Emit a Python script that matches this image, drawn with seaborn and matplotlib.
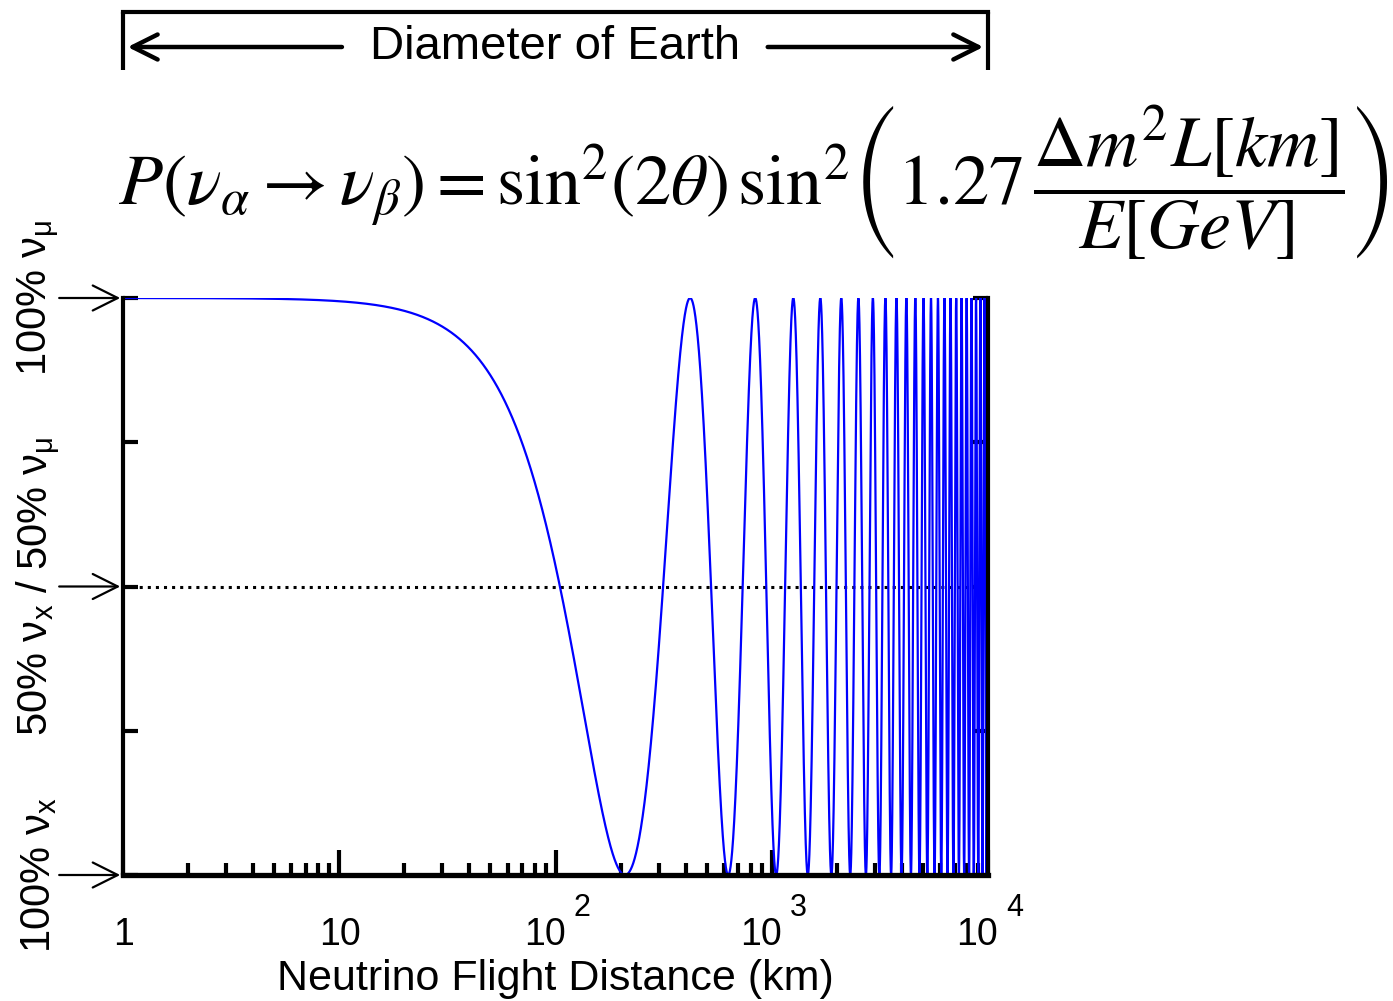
import numpy as np
import pandas as pd
import seaborn as sns
import matplotlib
matplotlib.use("Agg")
import matplotlib.pyplot as plt
import matplotlib.transforms as mtransforms

# ---- oscillation parameters (two-flavour, maximal mixing) ----
sin2_2theta = 1.0          # sin^2(2 theta)
delta_m2_ev2 = 5.9e-3      # Delta m^2 in eV^2
energy_gev = 1.0           # neutrino energy in GeV
distance_range_km = [1.0, 1.0e4]

# ---- axis annotation values ----
x_tick_values = [1, 10, 100, 1000, 10000]
x_tick_bases = ["1", "10", "10", "10", "10"]
x_tick_exponents = ["", "", "2", "3", "4"]
y_tick_values = [0.0, 0.25, 0.5, 0.75, 1.0]
level_values = [1.0, 0.5, 0.0]
level_labels = ["100% ν$_{\\mathrm{\\mu}}$",
                "50% ν$_{\\mathrm{x}}$ / 50% ν$_{\\mathrm{\\mu}}$",
                "100% ν$_{\\mathrm{x}}$"]
half_level = 0.5

# survival probability of nu_mu along the flight path
L = np.logspace(np.log10(distance_range_km[0]), np.log10(distance_range_km[1]), 20000)
p_osc = sin2_2theta * np.sin(1.27 * delta_m2_ev2 * L / energy_gev) ** 2
df = pd.DataFrame({"distance": L, "survival": 1.0 - p_osc})

sns.set_theme(style="white")
plt.rcParams["font.family"] = ["Liberation Sans", "DejaVu Sans"]
plt.rcParams["mathtext.fontset"] = "custom"
plt.rcParams["mathtext.rm"] = "Liberation Sans"
plt.rcParams["mathtext.it"] = "Liberation Sans:italic"
plt.rcParams["text.color"] = "black"
plt.rcParams["axes.labelcolor"] = "black"
plt.rcParams["xtick.color"] = "black"
plt.rcParams["ytick.color"] = "black"

fig = plt.figure(figsize=(13.93, 10.01), dpi=100)
ax = fig.add_axes([123 / 1393, 1 - 875 / 1001, 865 / 1393, 577 / 1001])

sns.lineplot(data=df, x="distance", y="survival", ax=ax, color="#0000ff",
             linewidth=1.6, estimator=None, sort=False)
ax.axhline(half_level, color="black", linestyle=":", linewidth=2.2, zorder=1)

ax.set_xscale("log")
ax.set_xlim(distance_range_km)
ax.set_ylim(0, 1)

# spines: no top frame
ax.spines["top"].set_visible(False)
for side, w in [("left", 3.0), ("bottom", 3.8), ("right", 3.0)]:
    ax.spines[side].set_linewidth(w)
    ax.spines[side].set_color("black")

ax.set_xticks(x_tick_values)
ax.set_xticklabels([])
ax.xaxis.set_minor_locator(matplotlib.ticker.LogLocator(base=10, subs=np.arange(2, 10)))
ax.xaxis.set_minor_formatter(matplotlib.ticker.NullFormatter())
ax.tick_params(axis="x", which="major", direction="in", length=18, width=3,
               bottom=True, top=False)
ax.tick_params(axis="x", which="minor", direction="in", length=9, width=3,
               bottom=True, top=False)

ax.set_yticks(y_tick_values)
ax.set_yticklabels([])
ax.tick_params(axis="y", which="major", direction="in", length=11, width=3,
               left=True, right=True)

# power-of-ten tick labels: base number plus raised exponent
px_decade = 865 / 4.0
tick_trans = mtransforms.blended_transform_factory(ax.transData, ax.transAxes)
base_y = -(945 - 875) / 577
exp_y = -(893 - 875) / 577
for xv, base, ex in zip(x_tick_values, x_tick_bases, x_tick_exponents):
    if ex:
        ax.text(xv * 10 ** (10 / px_decade), base_y, base, transform=tick_trans,
                fontsize=27, ha="right", va="baseline")
        ax.text(xv * 10 ** (18 / px_decade), exp_y, ex, transform=tick_trans,
                fontsize=22, ha="left", va="top")
    else:
        ax.text(xv * 10 ** (1 / px_decade), base_y, base, transform=tick_trans,
                fontsize=27, ha="center", va="baseline")

ax.set_xlabel("Neutrino Flight Distance (km)", fontsize=31, va="baseline")
ax.xaxis.set_label_coords(0.5, -(990 - 875) / 577)
ax.set_ylabel("")

# arrows and composition labels on the left
ytrans = ax.get_yaxis_transform()
for yv, txt in zip(level_values, level_labels):
    ax.annotate("", xy=(0, yv), xycoords=ytrans, xytext=(-0.077, yv),
                textcoords=ytrans,
                arrowprops=dict(arrowstyle="->", lw=1.6, mutation_scale=45,
                                color="black"),
                annotation_clip=False)
    ax.text(-0.097, yv, txt, transform=ytrans, rotation=90, fontsize=30,
            ha="center", va="center")

# "Diameter of Earth" span above the plot
top_trans = mtransforms.blended_transform_factory(ax.transData, fig.transFigure)
y_top, y_bar, y_arrow = 1 - 12 / 1001, 1 - 70 / 1001, 1 - 47 / 1001
for xv in distance_range_km:
    ax.plot([xv, xv], [y_bar, y_top], transform=top_trans, color="black",
            lw=3, clip_on=False, solid_capstyle="butt")
ax.plot(distance_range_km, [y_top, y_top], transform=top_trans, color="black",
        lw=3, clip_on=False, solid_capstyle="projecting")
ax.annotate("", xy=(distance_range_km[0] * 1.02, y_arrow), xycoords=top_trans,
            xytext=(10.6, y_arrow), textcoords=top_trans,
            arrowprops=dict(arrowstyle="->", lw=3.2, mutation_scale=45, color="black"),
            annotation_clip=False)
ax.annotate("", xy=(distance_range_km[1] * 0.98, y_arrow), xycoords=top_trans,
            xytext=(930, y_arrow), textcoords=top_trans,
            arrowprops=dict(arrowstyle="->", lw=3.2, mutation_scale=45, color="black"),
            annotation_clip=False)
ax.text(100, y_arrow, "Diameter of Earth", transform=top_trans, fontsize=34,
        ha="center", va="center")

# oscillation formula
formula = (r"$P(\nu_{\alpha} \rightarrow \nu_{\beta}) = \mathrm{sin}^{2}(2\theta)\,"
           r"\mathrm{sin}^{2}\left(1.27\,\dfrac{\Delta m^{2} L[km]}{E[GeV]}\right)$")
fig.text(118 / 1393, 1 - 182 / 1001, formula, fontsize=52, math_fontfamily="stix",
         ha="left", va="center")

fig.savefig("out.png", dpi=100, facecolor="white")
